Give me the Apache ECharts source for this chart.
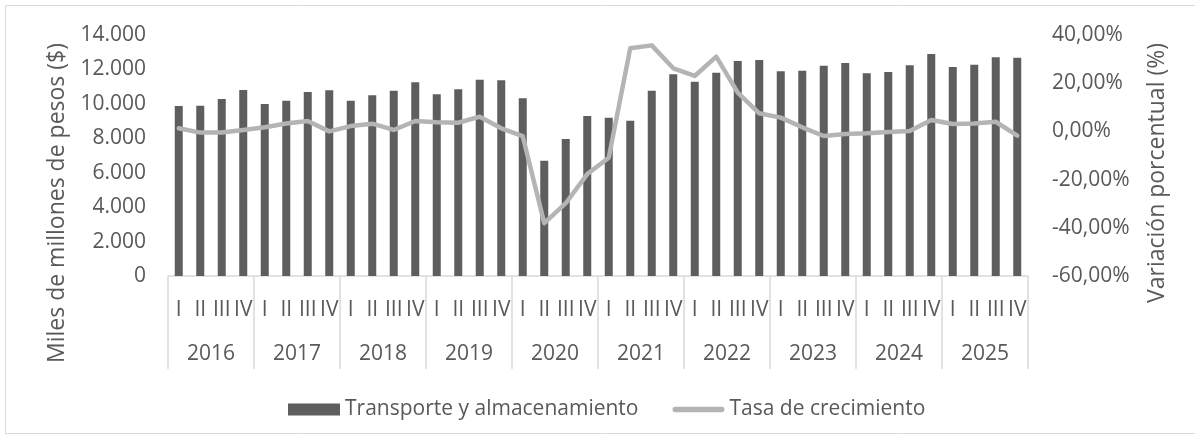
<!DOCTYPE html>
<html>
<head>
<meta charset="utf-8">
<script src="https://cdn.jsdelivr.net/npm/echarts@6/dist/echarts.min.js"></script>
<style>
  html, body { margin: 0; padding: 0; background: #fff; }
  #chart { width: 1195px; height: 439px; }
</style>
</head>
<body>
<div id="chart"></div>
<script>
  // datos
  const years = ['2016', '2017', '2018', '2019', '2020', '2021', '2022', '2023', '2024', '2025'];
  const quarters = ['I', 'II', 'III', 'IV'];
  const transporte = [
    9875, 9895, 10282, 10805,
    9992, 10185, 10689, 10786,
    10185, 10495, 10766, 11250,
    10553, 10843, 11405, 11367,
    10321, 6700, 7958, 9295,
    9198, 9024, 10766, 11715,
    11289, 11812, 12490, 12548,
    11889, 11928, 12218, 12373,
    11773, 11850, 12237, 12896,
    12141, 12276, 12703, 12683
  ];
  const tasa = [
    1.3, -0.5, -0.5, 0.6,
    1.7, 3.3, 4.3, 0.0,
    2.2, 3.2, 0.6, 4.3,
    3.8, 3.6, 6.1, 1.3,
    -2.0, -38.1, -29.8, -17.7,
    -10.9, 34.5, 35.7, 26.2,
    23.0, 31.0, 16.1, 7.5,
    5.7, 1.7, -1.9, -1.1,
    -0.8, -0.2, 0.2, 4.7,
    3.1, 3.3, 4.0, -1.8
  ];

  let categorias = [];
  years.forEach((y) => {
    quarters.forEach((q) => {
      categorias.push(q);
    });
  });

  const font = '"Open Sans", sans-serif';
  const gris = '#595959';
  const lineaEje = '#d9d9d9';
  const grisLinea = '#b4b4b4';

  let chart = echarts.init(document.getElementById('chart'));
  chart.setOption({
    animation: false,
    textStyle: { fontFamily: font },
    grid: { left: 168, right: 167, top: 35, bottom: 163 },
    legend: {
      left: 283,
      top: 394,
      itemGap: 34,
      itemWidth: 52,
      itemHeight: 12,
      textStyle: { color: gris, fontSize: 21, fontFamily: font },
      data: [
        { name: 'Transporte y almacenamiento', icon: 'rect' },
        {
          name: 'Tasa de crecimiento',
          icon: 'path://M2.5,0 L45.5,0 A2.5,2.5 0 0 1 45.5,5 L2.5,5 A2.5,2.5 0 0 1 2.5,0 Z',
          itemStyle: { color: grisLinea, borderWidth: 0 },
          lineStyle: { width: 0 }
        }
      ]
    },
    xAxis: [
      {
        type: 'category',
        data: categorias,
        axisLine: { lineStyle: { color: lineaEje, width: 1.5 } },
        axisTick: {
          show: true,
          length: 93,
          interval: (index) => index % 4 === 0,
          lineStyle: { color: lineaEje, width: 1.5 }
        },
        axisLabel: { interval: 0, color: gris, fontSize: 21, margin: 24, fontFamily: font }
      },
      {
        type: 'category',
        position: 'bottom',
        data: years,
        axisLine: { show: false },
        axisTick: { show: false },
        axisLabel: { color: gris, fontSize: 21, margin: 68, fontFamily: font }
      }
    ],
    yAxis: [
      {
        type: 'value',
        min: 0,
        max: 14000,
        interval: 2000,
        splitLine: { show: false },
        axisLine: { show: false },
        axisTick: { show: false },
        axisLabel: {
          color: gris, fontSize: 21, margin: 22, fontFamily: font,
          formatter: (v) => v.toLocaleString('de-DE')
        }
      },
      {
        type: 'value',
        min: -60,
        max: 40,
        interval: 20,
        splitLine: { show: false },
        axisLine: { show: false },
        axisTick: { show: false },
        axisLabel: {
          color: gris, fontSize: 21, margin: 24, fontFamily: font,
          formatter: (v) => v.toFixed(2).replace('.', ',') + '%'
        }
      }
    ],
    graphic: [
      {
        type: 'rect',
        shape: { x: 5.5, y: 5.5, width: 1200, height: 428 },
        style: { fill: 'none', stroke: lineaEje, lineWidth: 1 },
        silent: true
      },
      {
        type: 'text',
        x: 57,
        y: 43,
        rotation: Math.PI / 2,
        style: {
          text: 'Miles de millones de pesos ($)',
          fill: gris,
          font: '23px ' + font,
          align: 'right',
          verticalAlign: 'middle'
        }
      },
      {
        type: 'text',
        x: 1157,
        y: 43,
        rotation: Math.PI / 2,
        style: {
          text: 'Variación porcentual (%)',
          fill: gris,
          font: '23px ' + font,
          align: 'right',
          verticalAlign: 'middle'
        }
      }
    ],
    series: [
      {
        name: 'Transporte y almacenamiento',
        type: 'bar',
        xAxisIndex: 0,
        yAxisIndex: 0,
        barWidth: 8,
        itemStyle: { color: '#5e5e5e' },
        data: transporte
      },
      {
        name: 'Tasa de crecimiento',
        type: 'line',
        xAxisIndex: 0,
        yAxisIndex: 1,
        symbol: 'none',
        lineStyle: { color: grisLinea, width: 4.5, cap: 'round', join: 'round' },
        itemStyle: { color: grisLinea },
        data: tasa
      }
    ]
  });
</script>
</body>
</html>
